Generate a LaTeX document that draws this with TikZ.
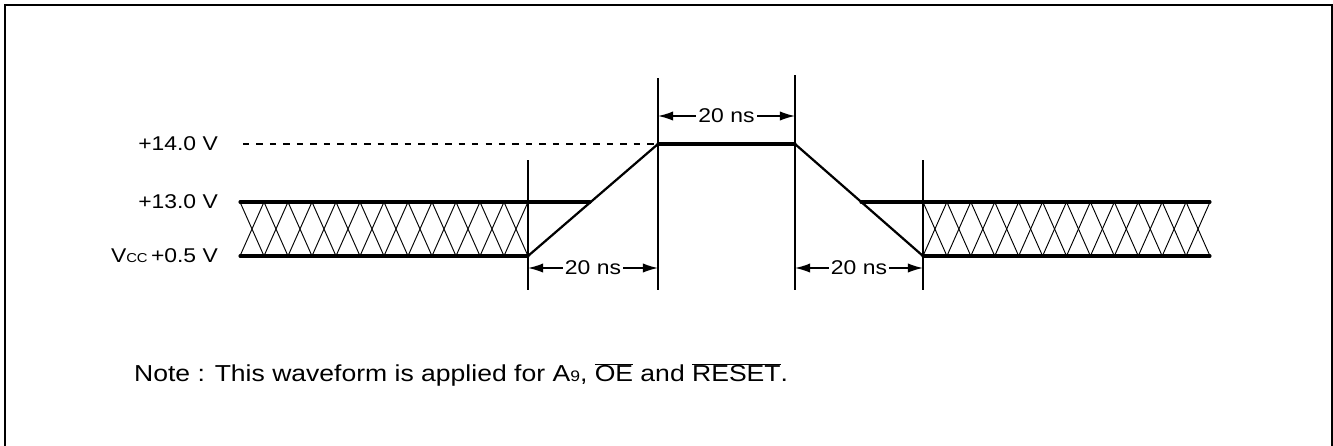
\documentclass[tikz,border=0pt]{standalone}
\usepackage{fontspec}
\setmainfont[FakeStretch=1.15]{Liberation Sans}
\usetikzlibrary{arrows.meta,calc}
\newcommand{\ovl}[1]{$\overline{\mbox{#1}}$}

\begin{document}
\begin{tikzpicture}[x=0.03cm,y=-0.03cm,
    wave/.style={line width=2.6pt,line cap=round,line join=round},
    ramp/.style={line width=1.9pt},
    guide/.style={line width=1.6pt},
    hatch/.style={line width=0.8pt},
    dim/.style={line width=1.3pt,{Latex[length=13pt,width=8pt]}-{Latex[length=13pt,width=8pt]}},
    dimtext/.style={fill=white,inner sep=2pt,font=\fontsize{17}{20}\selectfont},
    lvl/.style={anchor=east,font=\fontsize{17}{20}\selectfont}]
  \useasboundingbox (0,0) rectangle (1333,446);
  % frame
  \draw[line width=1.2pt] (5,446) -- (5,5) -- (1332,5) -- (1332,446);

  % key points of the waveform
  \coordinate (riseS) at (528,256);
  \coordinate (riseE) at (658,144);
  \coordinate (fallS) at (795,144);
  \coordinate (fallE) at (923,256);

  % level labels
  \node[lvl] (l14) at (222,144) {+14.0 V};
  \node[lvl] (l13) at (222,202) {+13.0 V};
  \node[lvl] (lvcc) at (222,256) {V{\fontsize{11}{13}\selectfont CC}\,+0.5 V};

  % dashed +14 V level
  \draw[line width=1pt,dash pattern=on 5.5pt off 6pt] (243,144) -- (riseE);

  % hatched bands (don't care)
  \foreach \i in {0,...,11}{
    \draw[hatch] (240+24*\i,202) -- (264+24*\i,256);
    \draw[hatch] (240+24*\i,256) -- (264+24*\i,202);
  }
  \foreach \i in {0,...,11}{
    \draw[hatch] ({923+287/12*\i},202) -- ({923+287/12*(\i+1)},256);
    \draw[hatch] ({923+287/12*\i},256) -- ({923+287/12*(\i+1)},202);
  }
  \draw[wave] (240,202) -- (590,202);
  \draw[wave] (240,256) -- (riseS);
  \draw[wave] (861,202) -- (1210,202);
  \draw[wave] (fallE) -- (1210,256);
  \draw[wave] (riseE) -- (fallS);

  % ramps
  \draw[ramp] (riseS) -- (riseE);
  \draw[ramp] (fallS) -- (fallE);

  % timing guides
  \draw[guide] (528,160) -- (528,290);
  \draw[guide] (658,78) -- (658,290);
  \draw[guide] (795,75) -- (795,290);
  \draw[guide] (923,160) -- (923,290);

  % 20 ns dimensions
  \draw[dim] (528,268) -- (658,268) node[dimtext,midway] (t1) {20 ns};
  \draw[dim] (658,116) -- (795,116) node[dimtext,midway] (t2) {20 ns};
  \draw[dim] (795,268) -- (923,268) node[dimtext,midway] (t3) {20 ns};

  % note
  \node[anchor=west,font=\fontsize{19.7}{23}\selectfont] (note) at (130,375)
    {Note : This waveform is applied for A{\fontsize{13}{15}\selectfont 9}, \ovl{OE} and \ovl{RESET}.};
\end{tikzpicture}
\end{document}
